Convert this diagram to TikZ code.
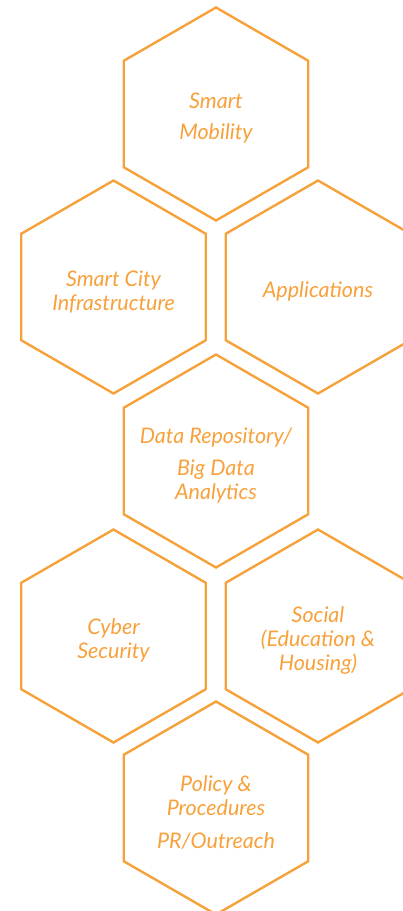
\documentclass[tikz,border=0pt]{standalone}
\usepackage{fontspec}
\setmainfont{Lato}
\usetikzlibrary{shapes.geometric}
\definecolor{hexorange}{RGB}{247,161,59}

\begin{document}
\begin{tikzpicture}
    [x=1pt,y=-1pt,
     hexa/.style={draw=hexorange, line width=2.4pt, regular polygon, regular polygon sides=6,
                  shape border rotate=30, minimum size=213pt, inner sep=0pt, outer sep=0pt},
     hexlabel/.style={text=hexorange, align=center, inner sep=0pt,
                      font=\fontsize{21.5}{24}\selectfont\itshape}]
  \useasboundingbox (0,0) rectangle (402,911);

  \node[hexa] (mob) at (216,114) {};
  \node[hexa] (infra) at (113.5,287) {};
  \node[hexa] (apps) at (318,287) {};
  \node[hexa] (data) at (216,461) {};
  \node[hexa] (cyber) at (113.5,636) {};
  \node[hexa] (social) at (318,636) {};
  \node[hexa] (policy) at (216,808) {};

  \node[hexlabel] (mobtext) at ([yshift=-4.5pt]mob.center) {Smart\\[7pt]Mobility};
  \node[hexlabel] (infratext) at ([yshift=-4.5pt]infra.center) {Smart City\\Infrastructure};
  \node[hexlabel] (appstext) at ([yshift=-4.5pt]apps.center) {Applications};
  \node[hexlabel] (datatext) at ([yshift=-4.5pt]data.center) {Data Repository/\\[8pt]Big Data\\Analytics};
  \node[hexlabel] (cybertext) at ([yshift=-4.5pt]cyber.center) {Cyber\\Security};
  \node[hexlabel] (socialtext) at ([yshift=-4.5pt]social.center) {Social\\(Education \&\\Housing)};
  \node[hexlabel] (policytext) at ([yshift=-4.5pt]policy.center) {Policy \&\\Procedures\\[9pt]PR/Outreach};
\end{tikzpicture}
\end{document}
